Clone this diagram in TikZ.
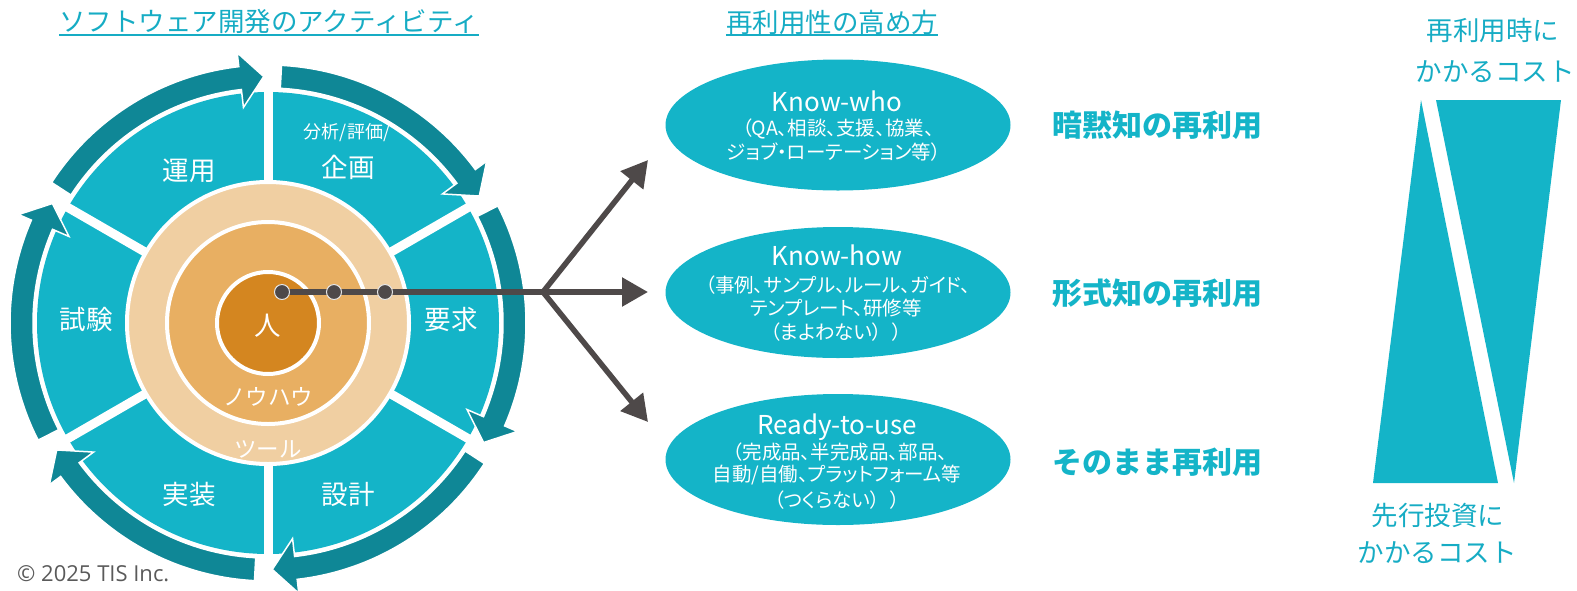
\documentclass[tikz,border=0pt]{standalone}
\usepackage{fontspec}
\setmainfont{Noto Sans CJK JP}
\newfontfamily\jpprop{Noto Sans CJK JP}[RawFeature={+palt}]
\newfontfamily\latinfont{Open Sans}
\usetikzlibrary{arrows.meta,shapes.geometric}
\definecolor{segblue}{RGB}{20,180,200}
\definecolor{darkteal}{RGB}{15,135,150}
\definecolor{tanA}{RGB}{240,207,162}
\definecolor{tanB}{RGB}{232,175,98}
\definecolor{tanC}{RGB}{212,134,32}
\definecolor{arrgray}{RGB}{78,73,73}
\definecolor{titleblue}{RGB}{22,172,196}
\definecolor{copygray}{RGB}{90,90,90}
\newcommand{\fsz}[1]{\fontsize{#1}{#1}\selectfont}
\begin{document}
\begin{tikzpicture}[x=1pt,y=-1pt,
  titlestyle/.style={text=titleblue,font=\fsz{26.5},inner sep=0pt},
  ul/.style={draw=titleblue,line width=2pt},
  wlabel/.style={text=white,font=\fsz{26.5},inner sep=0pt},
  wsmall/.style={text=white,font=\fsz{18},inner sep=0pt},
  wmid/.style={text=white,font=\fsz{22.5},inner sep=0pt},
  seg/.style={fill=darkteal,draw=white,line width=1.5pt,line join=miter},
  ring/.style={draw=white,line width=4pt},
  dotstyle/.style={circle,fill=arrgray,draw=white!80!gray,line width=1pt,minimum size=15pt,inner sep=0pt},
  conn/.style={draw=arrgray,line width=5.5pt,line cap=round},
  fan/.style={conn,-{Triangle[length=26pt,width=28pt]}},
  ell/.style={ellipse,fill=segblue,minimum width=345pt,minimum height=131pt,inner sep=0pt},
  etitle/.style={text=white,font=\fsz{26},inner sep=0pt,anchor=base},
  esub/.style={text=white,font=\jpprop\fsz{19.5},inner sep=0pt},
  boldlbl/.style={text=segblue,font=\bfseries\fsz{30},inner sep=0pt},
  costlbl/.style={text=titleblue,font=\fsz{26.5},inner sep=0pt},
  tri/.style={fill=segblue}
]
\useasboundingbox (0,0) rectangle (1577,590);

% titles
\node[titlestyle] (title1) at (269,22) {ソフトウェア開発のアクティビティ};
\draw[ul] ([yshift=-0.5pt]title1.south west) -- ([yshift=-0.5pt]title1.south east);
\node[titlestyle] (title2) at (832,22) {再利用性の高め方};
\draw[ul] ([yshift=-0.5pt]title2.south west) -- ([yshift=-0.5pt]title2.south east);

% wheel
\begin{scope}[shift={(268,323)},yscale=-1]
  \fill[segblue] (0,0) circle[radius=231];
  \foreach \a in {90,30,-30,-90,-150,150}
    \draw[white,line width=9pt] (0,0) -- (\a:234);
  \foreach \s/\t in {147/91,87/31,27/-29,-33/-89,-93/-149,-153/-209}{
    \path[seg] (\s:258) arc[start angle=\s,end angle=\t+5.5,radius=258]
      -- (\t+5.5:272) -- (\t:246.5) -- (\t+5.5:217) -- (\t+5.5:235)
      arc[start angle=\t+5.5,end angle=\s,radius=235] -- cycle;
  }
  \path[ring,fill=tanA] (0,0) circle[radius=141];
  \path[ring,fill=tanB] (0,0) circle[radius=101];
  \path[ring,fill=tanC] (0,0) circle[radius=51];
\end{scope}

% wheel labels
\node[wlabel] (unyo) at (189,171) {運用};
\node[wsmall] (bunseki) at (347,133) {分析/評価/};
\node[wlabel] (kikaku) at (348,167) {企画};
\node[wlabel] (yokyu) at (451,319) {要求};
\node[wlabel] (shiken) at (86,319) {試験};
\node[wlabel] (jisso) at (189,494) {実装};
\node[wlabel] (sekkei) at (348,494) {設計};
\node[wlabel] (hito) at (268,326) {人};
\node[wmid] (knowhowlbl) at (268,397) {ノウハウ};
\node[wmid] (toollbl) at (268,449) {ツール};

% fan of arrows
\coordinate (p1) at (282,292);
\coordinate (j) at (543,292);
\coordinate (tip1) at (648,160);
\coordinate (tip2) at (648,292);
\coordinate (tip3) at (648,422);
\draw[conn] (p1) -- (j);
\draw[fan] (j) -- (tip1);
\draw[fan] (j) -- (tip2);
\draw[fan] (j) -- (tip3);
\node[dotstyle] (d1) at (p1) {};
\node[dotstyle] (d2) at (334,292) {};
\node[dotstyle] (d3) at (385,292) {};

% ellipses
\node[ell] (e1) at (838,125) {};
\node[ell] (e2) at (838,292.5) {};
\node[ell] (e3) at (838,459.5) {};
\node[etitle] (e1t) at (837,111.7) {Know-who};
\node[esub] (e1a) at (838,129) {（QA、相談、支援、協業、};
\node[esub] (e1b) at (834,152) {ジョブ・ローテーション等）};
\node[etitle] (e2t) at (837,265.7) {Know-how};
\node[esub] (e2a) at (838,285) {（事例、サンプル、ルール、ガイド、};
\node[esub] (e2b) at (836,308) {テンプレート、研修等};
\node[esub] (e2c) at (836,332) {（まよわない）\hspace{0.5em}）};
\node[etitle] (e3t) at (837,434) {Ready-to-use};
\node[esub] (e3a) at (840,452) {（完成品、半完成品、部品、};
\node[esub] (e3b) at (837,475) {自動/自働、プラットフォーム等};
\node[esub] (e3c) at (837,500) {（つくらない）\hspace{0.5em}）};

% bold labels
\node[boldlbl] (b1) at (1157.5,125) {暗黙知の再利用};
\node[boldlbl] (b2) at (1157.5,293) {形式知の再利用};
\node[boldlbl] (b3) at (1157.5,462) {そのまま再利用};

% triangles
\fill[tri] (1421,100) -- (1373,483) -- (1498,483) -- cycle;
\fill[tri] (1436,100) -- (1561,100) -- (1514,483) -- cycle;

% cost labels
\node[costlbl] (c1) at (1493,30) {再利用時に};
\node[costlbl] (c2) at (1495,72) {かかるコスト};
\node[costlbl] (c3) at (1438,515) {先行投資に};
\node[costlbl] (c4) at (1437,553) {かかるコスト};

% copyright
\node[text=copygray,font=\latinfont\fsz{22},inner sep=0pt,anchor=base west] (copy) at (17,581.5) {© 2025 TIS Inc.};
\end{tikzpicture}
\end{document}
